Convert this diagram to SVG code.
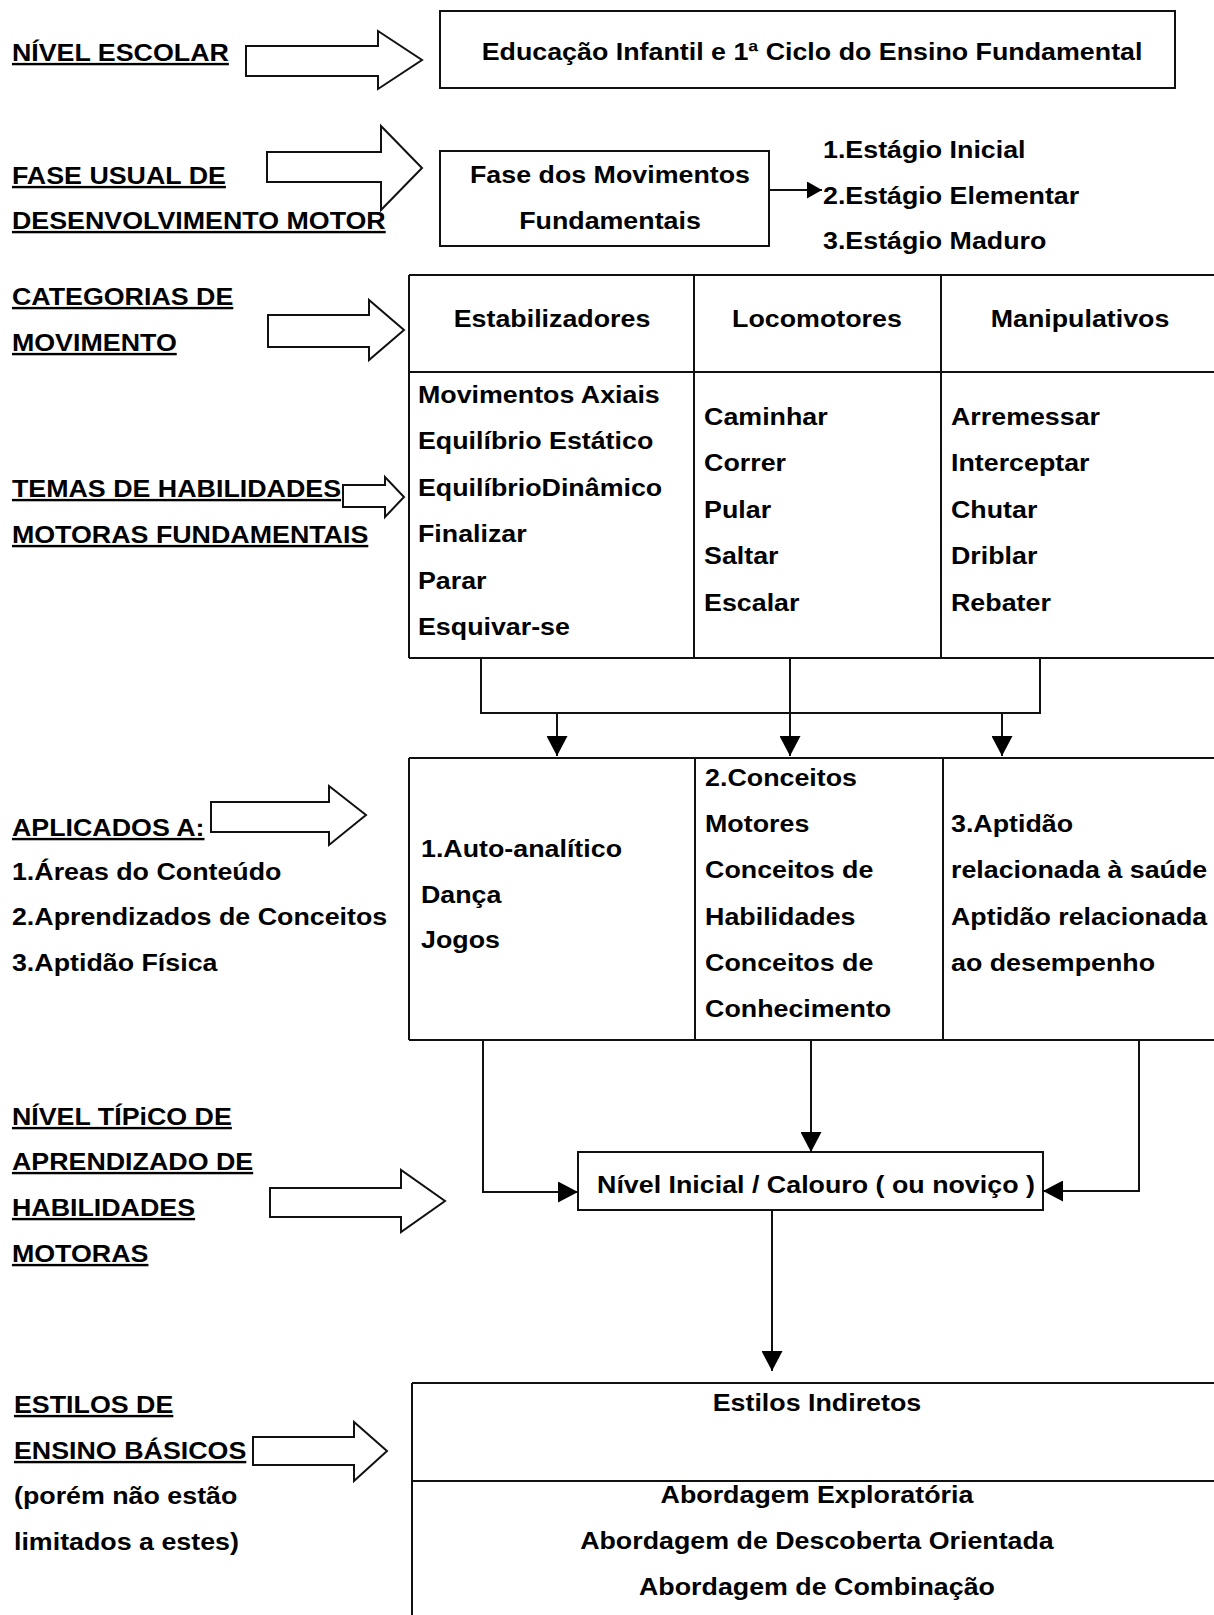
<svg xmlns="http://www.w3.org/2000/svg" width="1214" height="1615" viewBox="0 0 1214 1615">
<style>
.t{font-family:"Liberation Sans",Arial,sans-serif;font-weight:bold;font-size:24px;fill:#000}
.u{text-decoration:underline;text-decoration-thickness:2.5px}
.c{text-anchor:middle}
.box{fill:#fff;stroke:#111;stroke-width:2}
.ln{fill:none;stroke:#111;stroke-width:2}
.blk{fill:#fff;stroke:#111;stroke-width:2;stroke-linejoin:miter}
</style>
<defs>
<marker id="ah" markerUnits="userSpaceOnUse" markerWidth="20" markerHeight="21" refX="20" refY="10.5" orient="auto"><path d="M0,0 L20,10.5 L0,21 Z" fill="#000"/></marker>
<marker id="ahs" markerUnits="userSpaceOnUse" markerWidth="15" markerHeight="17" refX="15" refY="8.5" orient="auto"><path d="M0,0 L15,8.5 L0,17 Z" fill="#000"/></marker>
</defs>
<rect width="1214" height="1615" fill="#fff"/>

<!-- left labels -->
<g id="lbl-nivel-escolar"><g transform="scale(1.117 1)"><text class="t u" x="10.7" y="61">NÍVEL ESCOLAR</text></g></g>
<g id="lbl-fase"><g transform="scale(1.117 1)"><text class="t u" x="10.7" y="184">FASE USUAL DE</text><text class="t u" x="10.7" y="229">DESENVOLVIMENTO MOTOR</text></g></g>
<g id="lbl-categorias"><g transform="scale(1.117 1)"><text class="t u" x="10.7" y="305">CATEGORIAS DE</text><text class="t u" x="10.7" y="351">MOVIMENTO</text></g></g>
<g id="lbl-temas"><g transform="scale(1.117 1)"><text class="t u" x="10.7" y="497">TEMAS DE HABILIDADES</text><text class="t u" x="10.7" y="543">MOTORAS FUNDAMENTAIS</text></g></g>
<g id="lbl-aplicados"><g transform="scale(1.117 1)"><text class="t u" x="10.7" y="836">APLICADOS A:</text><text class="t" x="10.7" y="880">1.Áreas do Conteúdo</text><text class="t" x="10.7" y="925">2.Aprendizados de Conceitos</text><text class="t" x="10.7" y="971">3.Aptidão Física</text></g></g>
<g id="lbl-nivel-tipico"><g transform="scale(1.117 1)"><text class="t u" x="10.7" y="1125">NÍVEL TÍPiCO DE</text><text class="t u" x="10.7" y="1170">APRENDIZADO DE</text><text class="t u" x="10.7" y="1216">HABILIDADES</text><text class="t u" x="10.7" y="1262">MOTORAS</text></g></g>
<g id="lbl-estilos"><g transform="scale(1.117 1)"><text class="t u" x="12.5" y="1413">ESTILOS DE</text><text class="t u" x="12.5" y="1459">ENSINO BÁSICOS</text><text class="t" x="12.5" y="1504">(porém não estão</text><text class="t" x="12.5" y="1550">limitados a estes)</text></g></g>

<!-- block arrows -->
<g id="block-arrows">
<path class="blk" d="M246,46 H378 V31 L422,60 L378,89 V76 H246 Z"/>
<path class="blk" d="M267,152 H381 V126 L422,168 L381,210 V182 H267 Z"/>
<path class="blk" d="M268,315 H369 V300 L404,330 L369,360 V347 H268 Z"/>
<path class="blk" d="M343,485 H385 V477 L404,497 L385,517 V507 H343 Z"/>
<path class="blk" d="M211,802 H329 V786 L366,815 L329,845 V832 H211 Z"/>
<path class="blk" d="M270,1188 H401 V1170 L445,1201 L401,1232 V1217 H270 Z"/>
<path class="blk" d="M253,1437 H354 V1422 L387,1451 L354,1481 V1465 H253 Z"/>
</g>

<!-- top box -->
<g id="node-nivel-escolar">
<rect class="box" x="440" y="11" width="735" height="77"/>
<g transform="scale(1.117 1)"><text class="t c" x="727" y="60">Educação Infantil e 1ª Ciclo do Ensino Fundamental</text></g>
</g>

<!-- fase box -->
<g id="node-fase">
<rect class="box" x="440" y="151" width="329" height="95"/>
<g transform="scale(1.117 1)"><text class="t c" x="546.1" y="183">Fase dos Movimentos</text><text class="t c" x="546.1" y="229">Fundamentais</text></g>
</g>

<g id="node-estagios">
<g transform="scale(1.117 1)"><text class="t" x="736.8" y="158">1.Estágio Inicial</text><text class="t" x="736.8" y="204">2.Estágio Elementar</text><text class="t" x="736.8" y="249">3.Estágio Maduro</text></g>
</g>

<!-- table 1 -->
<g id="node-categorias">
<path class="ln" d="M409,275 H1214 M409,372 H1214 M409,658 H1214 M409,275 V658 M694,275 V658 M941,275 V658"/>
<g transform="scale(1.117 1)">
<text class="t c" x="494.2" y="327">Estabilizadores</text>
<text class="t c" x="731.4" y="327">Locomotores</text>
<text class="t c" x="966.9" y="327">Manipulativos</text>
<text class="t" x="374.2" y="403">Movimentos Axiais</text>
<text class="t" x="374.2" y="449.5">Equilíbrio Estático</text>
<text class="t" x="374.2" y="496">EquilíbrioDinâmico</text>
<text class="t" x="374.2" y="542">Finalizar</text>
<text class="t" x="374.2" y="589">Parar</text>
<text class="t" x="374.2" y="635">Esquivar-se</text>
<text class="t" x="630.3" y="425">Caminhar</text>
<text class="t" x="630.3" y="471.5">Correr</text>
<text class="t" x="630.3" y="518">Pular</text>
<text class="t" x="630.3" y="564.5">Saltar</text>
<text class="t" x="630.3" y="611">Escalar</text>
<text class="t" x="851.4" y="425">Arremessar</text>
<text class="t" x="851.4" y="471.5">Interceptar</text>
<text class="t" x="851.4" y="518">Chutar</text>
<text class="t" x="851.4" y="564.5">Driblar</text>
<text class="t" x="851.4" y="611">Rebater</text>
</g>
</g>

<!-- table 2 -->
<g id="node-aplicados">
<path class="ln" d="M409,758 H1214 M409,1040 H1214 M409,758 V1040 M695,758 V1040 M943,758 V1040"/>
<g transform="scale(1.117 1)">
<text class="t" x="376.9" y="857">1.Auto-analítico</text>
<text class="t" x="376.9" y="903">Dança</text>
<text class="t" x="376.9" y="948">Jogos</text>
<text class="t" x="631.2" y="786">2.Conceitos</text>
<text class="t" x="631.2" y="832.5">Motores</text>
<text class="t" x="631.2" y="878.5">Conceitos de</text>
<text class="t" x="631.2" y="925">Habilidades</text>
<text class="t" x="631.2" y="971.5">Conceitos de</text>
<text class="t" x="631.2" y="1017.5">Conhecimento</text>
<text class="t" x="851.4" y="832.5">3.Aptidão</text>
<text class="t" x="851.4" y="878.5">relacionada à saúde</text>
<text class="t" x="851.4" y="925">Aptidão relacionada</text>
<text class="t" x="851.4" y="971.5">ao desempenho</text>
</g>
</g>

<!-- box 3 -->
<g id="node-nivel-inicial">
<rect class="box" x="578" y="1152" width="465" height="58"/>
<g transform="scale(1.117 1)"><text class="t c" x="730.5" y="1193">Nível Inicial / Calouro ( ou noviço )</text></g>
</g>

<!-- bottom table -->
<g id="node-estilos">
<path class="ln" d="M412,1383 H1214 M412,1481 H1214 M412,1383 V1615"/>
<g transform="scale(1.117 1)">
<text class="t c" x="731.4" y="1411">Estilos Indiretos</text>
<text class="t c" x="731.4" y="1503">Abordagem Exploratória</text>
<text class="t c" x="731.4" y="1549">Abordagem de Descoberta Orientada</text>
<text class="t c" x="731.4" y="1595">Abordagem de Combinação</text>
</g>
</g>

<!-- connectors -->
<g id="connectors">
<path class="ln" d="M770,190 H822" marker-end="url(#ahs)"/>
<path class="ln" d="M481,658 V713 H1040 V658"/>
<path class="ln" d="M790,658 V756" marker-end="url(#ah)"/>
<path class="ln" d="M557,713 V756" marker-end="url(#ah)"/>
<path class="ln" d="M1002,713 V756" marker-end="url(#ah)"/>
<path class="ln" d="M483,1040 V1192 H578" marker-end="url(#ah)"/>
<path class="ln" d="M811,1040 V1152" marker-end="url(#ah)"/>
<path class="ln" d="M1139,1040 V1191 H1043" marker-end="url(#ah)"/>
<path class="ln" d="M772,1210 V1371" marker-end="url(#ah)"/>
</g>
</svg>
